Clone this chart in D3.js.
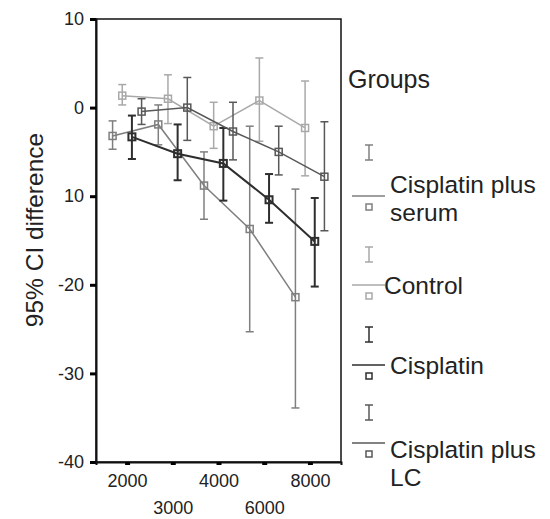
<!DOCTYPE html>
<html>
<head>
<meta charset="utf-8">
<script src="https://cdn.jsdelivr.net/npm/d3@7"></script>
<style>
  body { margin: 0; background: #fff; }
  svg text { font-family: "Liberation Sans", Arial, sans-serif; fill: #222; }
</style>
</head>
<body>
<svg id="chart" width="550" height="519"></svg>
<script>
// categories on the x axis
const categories = ['2000', '3000', '4000', '6000', '8000'];
const groups = ['Cisplatin plus serum', 'Control', 'Cisplatin', 'Cisplatin plus LC'];

// y ticks (the -10 tick is printed without its minus in the original)
const yTickValues = [10, 0, -10, -20, -30, -40];
const yTickLabels = ['10', '0', '10', '-20', '-30', '-40'];

// means and 95% CI bounds per group
const serumMean = [-3.2, -1.9, -8.8, -13.7, -21.4];
const serumUpper = [-1.5, 0.3, -5.0, -2.1, -9.2];
const serumLower = [-4.7, -4.2, -12.6, -25.3, -33.9];

const controlMean = [1.35, 1.0, -2.1, 0.8, -2.3];
const controlUpper = [2.6, 3.7, 0.6, 5.6, 3.0];
const controlLower = [0.3, -1.8, -4.6, -3.8, -7.7];

const cisMean = [-3.3, -5.2, -6.3, -10.4, -15.1];
const cisUpper = [-0.9, -1.9, -2.3, -7.5, -10.2];
const cisLower = [-5.8, -8.2, -10.5, -13.0, -20.2];

const lcMean = [-0.45, 0, -2.7, -5.0, -7.8];
const lcUpper = [1.0, 3.4, 0.6, -2.1, -1.6];
const lcLower = [-1.9, -3.7, -5.9, -7.6, -13.9];

const colors = ['#7f7f7f', '#a9a9a9', '#2e2e2e', '#585858'];
const legendLabels = [['Cisplatin plus', 'serum'], ['Control'], ['Cisplatin'], ['Cisplatin plus', 'LC']];

const series = [
  { mean: serumMean, hi: serumUpper, lo: serumLower },
  { mean: controlMean, hi: controlUpper, lo: controlLower },
  { mean: cisMean, hi: cisUpper, lo: cisLower },
  { mean: lcMean, hi: lcUpper, lo: lcLower }
];

const svg = d3.select('#chart');
const plotLeft = 96, plotRight = 341, plotTop = 19, plotBottom = 462;

const x = d3.scalePoint().domain(categories).range([plotLeft, plotRight]).padding(0.68);
const dodge = d3.scalePoint().domain(groups).range([-14.5, 14.5]);
const y = d3.scaleLinear().domain([-40, 10]).range([plotBottom, plotTop]);

// frame
svg.append('rect')
  .attr('x', plotLeft).attr('y', plotTop)
  .attr('width', plotRight - plotLeft).attr('height', plotBottom - plotTop)
  .attr('fill', 'none').attr('stroke', '#111').attr('stroke-width', 1.5);

// y axis
const yAxis = svg.append('g')
  .attr('transform', `translate(${plotLeft},0)`)
  .call(d3.axisLeft(y).tickValues(yTickValues).tickSize(6).tickPadding(6)
    .tickFormat((d, i) => yTickLabels[i]));
yAxis.select('.domain').attr('stroke', '#111').attr('stroke-width', 2);
yAxis.selectAll('.tick line').attr('stroke', '#000').attr('stroke-width', 3);
yAxis.selectAll('.tick text').attr('font-size', 18).attr('fill', '#222');

// x axis with staggered labels
const xAxis = svg.append('g')
  .attr('transform', `translate(0,${plotBottom})`)
  .call(d3.axisBottom(x).tickSize(3).tickPadding(0));
xAxis.select('.domain').attr('stroke', '#111').attr('stroke-width', 2);
xAxis.selectAll('.tick line').attr('stroke', '#000').attr('stroke-width', 5);
xAxis.selectAll('.tick text')
  .attr('font-size', 18).attr('fill', '#222')
  .attr('dy', null)
  .attr('y', (d, i) => (i % 2 === 0 ? 25 : 52));

// y title
svg.append('text')
  .attr('transform', 'translate(43,230) rotate(-90)')
  .attr('text-anchor', 'middle')
  .attr('font-size', 24.5)
  .text('95% CI difference');

// series
const line = d3.line();
series.forEach((s, g) => {
  const gx = i => x(categories[i]) + dodge(groups[g]);
  const layer = svg.append('g').attr('stroke', colors[g]).attr('fill', 'none')
    .attr('stroke-width', g === 2 ? 2 : 1.5);

  layer.append('path')
    .attr('d', line(s.mean.map((m, i) => [gx(i), y(m)])));

  const bars = layer.selectAll('g.bar').data(s.mean).enter().append('g').attr('class', 'bar');
  bars.append('line')
    .attr('x1', (d, i) => gx(i)).attr('x2', (d, i) => gx(i))
    .attr('y1', (d, i) => y(s.hi[i])).attr('y2', (d, i) => y(s.lo[i]));
  bars.append('line')
    .attr('x1', (d, i) => gx(i) - 4).attr('x2', (d, i) => gx(i) + 4)
    .attr('y1', (d, i) => y(s.hi[i])).attr('y2', (d, i) => y(s.hi[i]));
  bars.append('line')
    .attr('x1', (d, i) => gx(i) - 4).attr('x2', (d, i) => gx(i) + 4)
    .attr('y1', (d, i) => y(s.lo[i])).attr('y2', (d, i) => y(s.lo[i]));
  bars.append('rect')
    .attr('x', (d, i) => gx(i) - 3.5).attr('y', d => y(d) - 3.5)
    .attr('width', 7).attr('height', 7);
});

// legend
svg.append('text').attr('x', 348).attr('y', 88).attr('font-size', 25).text('Groups');

const legendLineY = [196, 285, 365, 443];
const legendTextY = [193, 294, 374, 458];
const lx = 369;
groups.forEach((name, g) => {
  const ly = legendLineY[g];
  const item = svg.append('g').attr('stroke', colors[g]).attr('fill', 'none').attr('stroke-width', 1.5);
  const iTop = g === 0 ? ly - 51 : ly - 38;
  item.append('line').attr('x1', lx).attr('x2', lx).attr('y1', iTop).attr('y2', iTop + 15);
  item.append('line').attr('x1', lx - 4).attr('x2', lx + 4).attr('y1', iTop).attr('y2', iTop);
  item.append('line').attr('x1', lx - 4).attr('x2', lx + 4).attr('y1', iTop + 15).attr('y2', iTop + 15);
  item.append('line').attr('x1', 352).attr('x2', 385).attr('y1', ly).attr('y2', ly);
  item.append('rect').attr('x', lx - 3).attr('y', ly + 8).attr('width', 6).attr('height', 6);

  const tx = g === 1 ? 384 : 390;
  const t = svg.append('text').attr('x', tx).attr('y', legendTextY[g]).attr('font-size', 24.5);
  legendLabels[g].forEach((s, k) => {
    t.append('tspan').attr('x', tx).attr('dy', k === 0 ? 0 : 28).text(s);
  });
});
</script>
</body>
</html>
